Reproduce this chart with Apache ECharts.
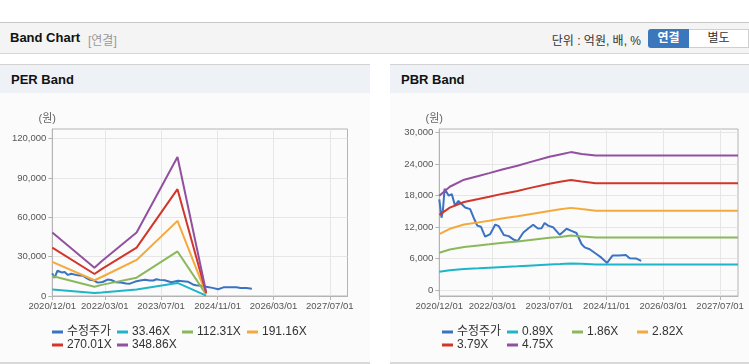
<!DOCTYPE html>
<html>
<head>
<meta charset="utf-8">
<script src="https://cdn.jsdelivr.net/npm/echarts@6/dist/echarts.min.js"></script>
<style>
  body { margin: 0; width: 749px; height: 364px; background: #fff; overflow: hidden;
         font-family: "Liberation Sans", Arial, "Noto Sans CJK KR", sans-serif; position: relative; }
  .topbar { position: absolute; left: 0; top: 22px; width: 749px; height: 30px; background: #f4f4f4;
            border-top: 1px solid #c8c8c8; border-bottom: 1px solid #d6d6d6; }
  .topbar .title { position: absolute; left: 10px; top: 7px; font-size: 13px; font-weight: bold; color: #111; }
  .topbar .sub { position: absolute; left: 88px; top: 8px; font-size: 12px; color: #999; }
  .topbar .unit { position: absolute; right: 108px; top: 8px; font-size: 12px; color: #333; }
  .btn { position: absolute; top: 6px; height: 19px; line-height: 19px; font-size: 12px; text-align: center; }
  .btn.on { left: 648px; width: 41px; background: #3a77bd; color: #fff; font-weight: bold; border-radius: 3px 0 0 3px; }
  .btn.off { left: 689px; width: 59px; background: #fff; color: #333; border: 1px solid #cfcfcf; border-left: none; height: 17px; line-height: 17px; }
  .panel { position: absolute; top: 64px; height: 297px; background: #fbfbfc;
           border-top: 1px solid #d2d2d2; border-bottom: 2px solid #d9d9d9; }
  .panel .head { height: 28px; background: #eef2f7; }
  .panel .head span { position: absolute; left: 11px; top: 7px; font-size: 13px; font-weight: bold; color: #111; }
  .chart { position: absolute; left: 0; top: 29px; height: 268px; }
</style>
</head>
<body>
<div class="topbar">
  <span class="title">Band Chart</span>
  <span class="sub">[연결]</span>
  <span class="unit">단위 : 억원, 배, %</span>
  <div class="btn on">연결</div>
  <div class="btn off">별도</div>
</div>
<div class="panel" style="left:0;width:370px">
  <div class="head"><span>PER Band</span></div>
  <div class="chart" id="per" style="width:370px"></div>
</div>
<div class="panel" style="left:390px;width:359px">
  <div class="head"><span>PBR Band</span></div>
  <div class="chart" id="pbr" style="width:359px"></div>
</div>
<script>
// 수정주가
const priceDates = ['2020-12-01','2020-12-20','2021-01-01','2021-01-15','2021-02-20','2021-03-18','2021-04-15','2021-05-14','2021-07-10','2021-08-22',
  '2021-09-20','2021-10-22','2021-11-22','2021-12-28','2022-02-10','2022-03-25','2022-04-24','2022-06-06','2022-07-18','2022-09-01',
  '2022-10-04','2022-11-20','2023-01-01','2023-02-12','2023-03-25','2023-04-25','2023-05-21','2023-06-20','2023-08-01','2023-09-28',
  '2023-11-25','2024-01-06','2024-02-18','2024-04-01','2024-04-28','2024-06-10','2024-08-06','2024-09-18','2024-11-06','2024-12-22',
  '2025-02-15','2025-04-15','2025-05-18','2025-07-10','2025-08-25'];
const priceValues = [17300,13800,15200,19300,18000,18300,16100,17000,15750,15450,
  13850,12300,12100,10200,10700,12500,12200,10500,10300,9600,
  9400,11000,11750,12460,11750,11800,12800,12300,12000,10550,
  11700,11300,10900,8800,8150,7800,6900,6200,5200,6600,
  6600,6720,6100,6050,5600];

// PER band
const perNames = ['수정주가','33.46X','112.31X','191.16X','270.01X','348.86X'];
const perDates = ['2020-12-01','2021-12-01','2022-02-01','2022-12-01','2023-11-20','2024-07-25'];
const per1 = [5000,2300,2700,5000,10000,300];
const per2 = [15300,7000,8500,14000,34000,1200];
const per3 = [26000,12000,14500,27500,57300,1800];
const per4 = [36900,16800,20500,36900,81500,2300];
const per5 = [48400,21500,26500,48400,106000,3000];
const perTicks = [0,30000,60000,90000,120000];

// PBR band
const pbrNames = ['수정주가','0.89X','1.86X','2.82X','3.79X','4.75X'];
const pbrDates = ['2020-12-01','2021-03-01','2021-07-01','2021-11-01','2022-02-01','2022-06-01','2022-10-01','2023-01-01',
  '2023-07-01','2023-10-01','2024-01-01','2024-04-01','2024-08-01','2027-12-01'];
const pbr1 = [3500,3800,4050,4180,4300,4430,4560,4680,4880,4980,5100,5050,4900,4900];
const pbr2 = [7150,7750,8250,8530,8740,9040,9290,9530,9980,10150,10400,10250,10040,10040];
const pbr3 = [10680,11700,12500,12920,13250,13690,14080,14430,15090,15400,15680,15450,15150,15150];
const pbr4 = [14350,15720,16800,17360,17800,18390,18910,19390,20270,20650,20970,20700,20350,20350];
const pbr5 = [17980,19700,21050,21750,22300,23050,23700,24300,25400,25850,26300,25950,25650,25650];
const pbrTicks = [0,6000,12000,18000,24000,30000];

const xLabels = ['2020-12-01','2022-03-01','2023-07-01','2024-11-01','2026-03-01','2027-07-01'];
const xMin = '2020-12-01';
const xMax = '2027-12-01';

const colors = ['#3b73c0','#1fb5c8','#8cb85c','#f5a93b','#d1362b','#92509f'];
const font = '"Liberation Sans", Arial, "Noto Sans CJK KR", sans-serif';

const toTime = s => new Date(s + 'T00:00:00').getTime();
const pair = (dates, vals) => dates.map((d, i) => [toTime(d), vals[i]]);
const pad = n => (n < 10 ? '0' : '') + n;
const fmtDate = v => {
  const d = new Date(v);
  return d.getFullYear() + '/' + pad(d.getMonth() + 1) + '/' + pad(d.getDate());
};

function buildOption(names, bands, bandDates, ticks, yMin, yMax, gridLeft, gridWidth) {
  const series = [{ name: names[0], data: pair(priceDates, priceValues) }];
  bands.forEach((b, i) => series.push({ name: names[i + 1], data: pair(bandDates, b) }));
  series.forEach((s, i) => {
    s.type = 'line';
    s.symbol = 'none';
    s.color = colors[i];
    s.lineStyle = { width: 2, color: colors[i] };
  });
  // 범례: 항목마다 하나씩, 4열 격자로 배치
  const legends = names.map((n, i) => ({
    data: [n],
    left: 52 + (i % 4) * 65,
    top: 232 + Math.floor(i / 4) * 13,
    padding: 0,
    icon: 'rect', itemWidth: 11, itemHeight: 3,
    textStyle: { fontSize: 12, color: '#333', fontFamily: font, padding: [0, 0, 0, -1] },
    selectedMode: false
  }));
  return {
    animation: false,
    grid: { left: gridLeft, top: 35, width: gridWidth, height: 167, show: true, borderColor: '#b4b4b4', borderWidth: 1 },
    legend: legends,
    xAxis: {
      type: 'value',
      min: toTime(xMin),
      max: toTime(xMax),
      axisLine: { onZero: false, lineStyle: { color: '#b4b4b4' } },
      axisTick: { show: true, length: 4, customValues: xLabels.map(toTime), lineStyle: { color: '#b4b4b4' } },
      axisLabel: {
        customValues: xLabels.map(toTime),
        color: '#555', fontSize: 9.5, fontFamily: font, margin: 6,
        formatter: fmtDate
      },
      splitLine: { show: true, lineStyle: { color: '#e6e6e6' } }
    },
    yAxis: {
      type: 'value',
      min: yMin,
      max: yMax,
      name: '(원)',
      nameLocation: 'end',
      nameGap: 5,
      nameTextStyle: { color: '#666', fontSize: 11, fontFamily: font, align: 'center', padding: [0, 10, 0, 0] },
      axisLine: { show: true, lineStyle: { color: '#b4b4b4' } },
      axisTick: { show: true, length: 4, customValues: ticks, lineStyle: { color: '#b4b4b4' } },
      axisLabel: {
        customValues: ticks,
        color: '#555', fontSize: 9.5, fontFamily: font, margin: 6,
        formatter: v => v.toLocaleString('en-US')
      },
      splitLine: { show: true, lineStyle: { color: '#e6e6e6' } }
    },
    series: series
  };
}

const perChart = echarts.init(document.getElementById('per'));
perChart.setOption(buildOption(perNames, [per1, per2, per3, per4, per5], perDates, perTicks, 0, 127400, 52.3, 295.2));

const pbrChart = echarts.init(document.getElementById('pbr'));
pbrChart.setOption(buildOption(pbrNames, [pbr1, pbr2, pbr3, pbr4, pbr5], pbrDates, pbrTicks, -1100, 30700, 49.3, 298.7));
</script>
</body>
</html>
